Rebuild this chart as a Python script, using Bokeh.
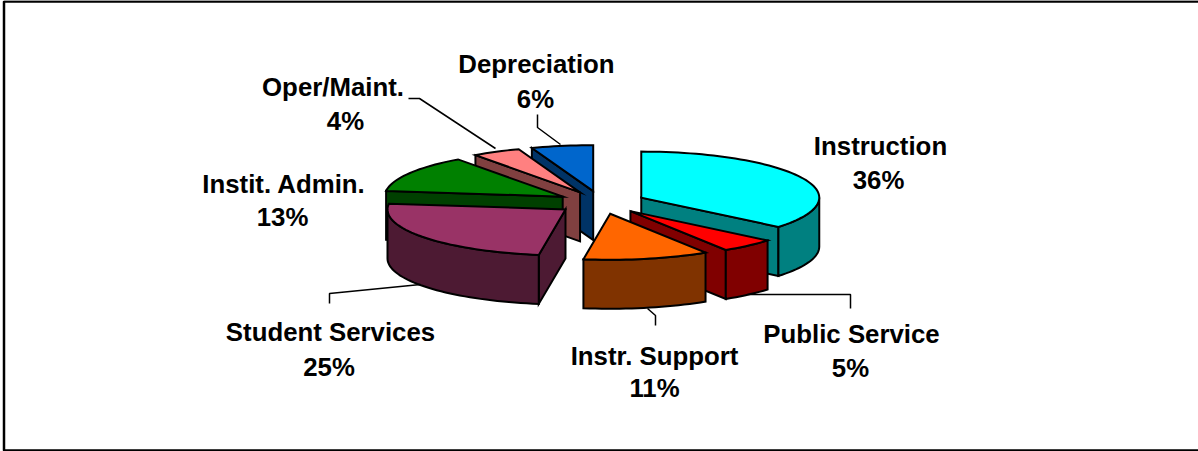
import math
from bokeh.plotting import figure
from bokeh.core.properties import value
from bokeh.embed import file_html
from bokeh.resources import INLINE

# ---- data ----
categories = ["Instruction", "Public Service", "Instr. Support", "Student Services",
              "Instit. Admin.", "Oper/Maint.", "Depreciation"]
percent_labels = ["36%", "5%", "11%", "25%", "13%", "4%", "6%"]
# slice sizes (the labels show them rounded)
shares = [36.0, 5.0, 11.4, 24.6, 13.0, 4.4, 5.6]
top_colors = ["#00FFFF", "#FF0000", "#FF6600", "#993366", "#008000", "#FF8080", "#0066CC"]
side_colors = ["#008080", "#800000", "#803300", "#4D1A33", "#004000", "#804040", "#003366"]

# ---- layout of the labels ----
name_x = [880, 851, 654, 330, 283.5, 332.5, 536]
name_y = [145, 333, 355, 331, 183, 86, 63]
pct_x = [878, 850, 654, 328.5, 282, 345, 535]
pct_y = [179.5, 367, 387, 366, 216.5, 120.5, 98]
leaders_x = [[], [747, 850, 850], [647, 655, 655], [420, 329, 329], [], [495, 419, 408], [560, 537, 537]]
leaders_y = [[], [294, 294, 308], [308, 315, 325], [284, 293, 303], [], [148, 98, 98], [144, 127, 114]]

# ---- projection of the pie ----
CX, CY = 600.5, 202.0
RX, RY = 178.0, 46.0
EXPLODE = 0.25
DEPTH = 49.0
DRAW_ORDER = [6, 0, 5, 4, 1, 3, 2]
LW = 2.0

W, H = 1198, 451
p = figure(width=W, height=H, x_range=(0, W), y_range=(H, 0), output_backend="svg",
           toolbar_location=None, min_border=0, outline_line_color=None,
           background_fill_color="white", border_fill_color="white")
p.axis.visible = False
p.xgrid.visible = False
p.ygrid.visible = False
p.styles = {"position": "absolute", "left": "0px", "top": "0px"}

# chart frame (open on the right, as in the source image)
p.line([W, 3.5, 3.5, W], [1, 1, 450, 450], line_color="black", line_width=2.5)


def pt(a, th):
    return (a[0] + RX * math.sin(th), a[1] - RY * math.cos(th))


def arc(a, t0, t1):
    n = max(2, int(abs(t1 - t0) / math.radians(2)) + 1)
    return [pt(a, t0 + (t1 - t0) * i / n) for i in range(n + 1)]


def poly(points, color):
    p.patch([q[0] for q in points], [q[1] for q in points], fill_color=color,
            line_color="black", line_width=LW, line_join="miter")


# wedge start and end angles, clockwise from twelve o'clock
total = sum(shares)
wedges = []
acc = 0.0
for v in shares:
    t0 = 2 * math.pi * acc / total
    acc += v
    wedges.append((t0, 2 * math.pi * acc / total))

for i in DRAW_ORDER:
    t0, t1 = wedges[i]
    mid = (t0 + t1) / 2
    apex = (CX + EXPLODE * RX * math.sin(mid), CY - EXPLODE * RY * math.cos(mid))
    interior = pt(apex, mid)
    # radial cut faces that turn towards the viewer
    for th in (t0, t1):
        e = pt(apex, th)
        dx = e[0] - apex[0]
        if abs(dx) < 1:
            continue
        y_on_edge = apex[1] + (interior[0] - apex[0]) * (e[1] - apex[1]) / dx
        if interior[1] < y_on_edge:
            poly([apex, e, (e[0], e[1] + DEPTH), (apex[0], apex[1] + DEPTH)], side_colors[i])
    # outer rim, front half only
    lo = max(t0, math.pi / 2)
    hi = min(t1, 3 * math.pi / 2)
    if hi > lo:
        rim = arc(apex, lo, hi)
        poly(rim + [(q[0], q[1] + DEPTH) for q in reversed(rim)], side_colors[i])
    # top
    poly([apex] + arc(apex, t0, t1), top_colors[i])

# leader lines
for xs, ys in zip(leaders_x, leaders_y):
    if xs:
        p.line(xs, ys, line_color="black", line_width=1.5)

# labels
for xs, ys, txt in ((name_x, name_y, categories), (pct_x, pct_y, percent_labels)):
    p.text(x=xs, y=ys, text=txt, text_font=value("Liberation Sans"), text_font_style="bold",
           text_font_size="25.8px", text_color="black", text_align="center",
           text_baseline="middle")

open("out.html", "w").write(file_html(p, INLINE))
